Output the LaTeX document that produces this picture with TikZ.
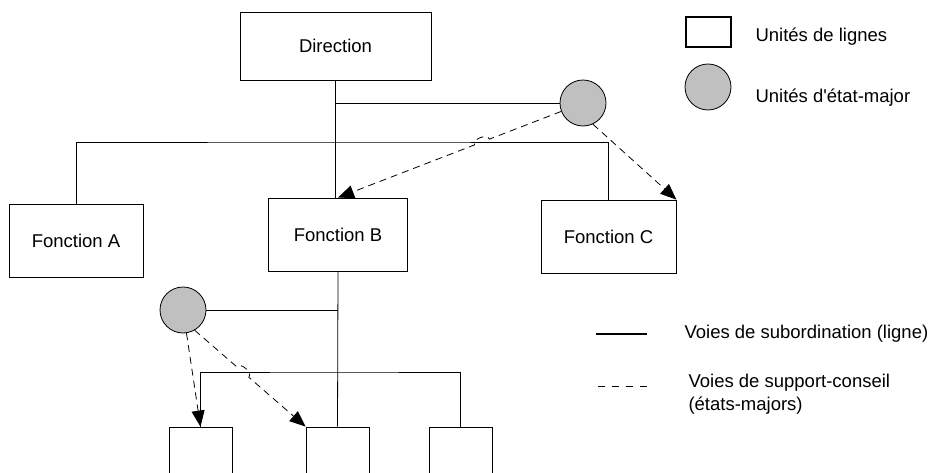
\documentclass[tikz,border=0pt]{standalone}
\usepackage{fontspec}
\setmainfont{Liberation Sans}[Ligatures=TeXOff]
\usetikzlibrary{arrows.meta,calc}
\definecolor{gris}{RGB}{192,192,192}

\begin{document}
\begin{tikzpicture}[x=1pt,y=-1pt,
    every node/.style={font=\fontsize{18.5}{23}\selectfont},
    ligne/.style={draw,line width=0.8pt,inner sep=0pt},
    etat/.style={circle,draw,fill=gris,minimum size=46pt,inner sep=0pt,line width=0.8pt},
    sub/.style={line width=0.8pt},
    pointe/.tip={Triangle[length=16pt,width=13pt]},
    conseil/.style={line width=0.8pt,dash pattern=on 7pt off 5pt,-pointe}]
    \clip (0,0) rectangle (928,473);

    % unites de ligne
    \node[ligne,minimum width=191pt,minimum height=68pt] (dir) at (335.5,46) {Direction};
    \node[ligne,minimum width=134pt,minimum height=73pt] (fa) at (76,240.5) {Fonction A};
    \node[ligne,minimum width=139pt,minimum height=73pt] (fb) at (338,234.5) {Fonction B};
    \node[ligne,minimum width=135pt,minimum height=73pt] (fc) at (608.5,236.5) {Fonction C};
    \foreach \n/\x in {1/200.5, 2/337.5, 3/460.5}
        \node[ligne,minimum width=63pt,minimum height=60pt] (u\n) at (\x,457) {};

    % etats-majors
    \node[etat] (st1) at (583,103) {};
    \node[etat] (st2) at (183,310) {};

    % voies de subordination
    \coordinate (bar1) at (dir.south |- 0,142);
    \coordinate (bar1e) at (fc.north |- bar1);
    \coordinate (bar2) at (fb.south |- 0,372);
    \coordinate (bar2w) at (u1.north |- bar2);
    \draw[sub] (dir.south) -- (dir.south |- fb.north);
    \draw[sub] (dir.south |- st1) -- (st1);
    \draw[sub] (fa.north) |- (bar1) -| (fc.north);
    \draw[sub] (fb.south) -- (u2.north);
    \draw[sub] (st2) -- (st2 -| fb.south);
    \draw[sub] (u1.north) |- (bar2) -| (u3.north);

    % voies de support-conseil (avec sauts)
    \coordinate (h1) at (intersection of st1--fb.north and bar1--bar1e);
    \coordinate (s2) at (st2.-60);
    \coordinate (u2nw) at (u2.north west);
    \coordinate (h2) at (intersection of s2--u2nw and bar2w--bar2);
    \draw[conseil] (st1) -- ($(h1)!8pt!(st1)$) to[bend right=90] ($(h1)!8pt!(fb.north)$) -- (fb.north);
    \draw[conseil] (st1.-65) -- (fc.north east);
    \draw[conseil] (st2) -- (u1.north);
    \draw[conseil] (s2) -- ($(h2)!8pt!(s2)$) to[bend left=90] ($(h2)!8pt!(u2nw)$) -- (u2nw);

    % legende
    \node[ligne,line width=1.6pt,minimum width=45pt,minimum height=30pt] (lgl) at (708.5,32) {};
    \node[anchor=west] (lgltxt) at (752,37) {Unités de lignes};
    \node[etat] (lge) at (708,87) {};
    \node[anchor=west] (lgetxt) at (752,98) {Unités d'état-major};
    \coordinate (ls1) at (596,334);
    \coordinate (ls2) at (647,334);
    \draw[sub,line width=1.6pt] (ls1) -- (ls2);
    \node[anchor=west] (lgs) at (681,334) {Voies de subordination (ligne)};
    \coordinate (ld1) at (598,386);
    \coordinate (ld2) at (650,386);
    \draw[sub,dash pattern=on 7pt off 7pt] (ld1) -- (ld2);
    \node[anchor=west,align=left] (lgd) at (685,394) {Voies de support-conseil\\(états-majors)};
\end{tikzpicture}
\end{document}
